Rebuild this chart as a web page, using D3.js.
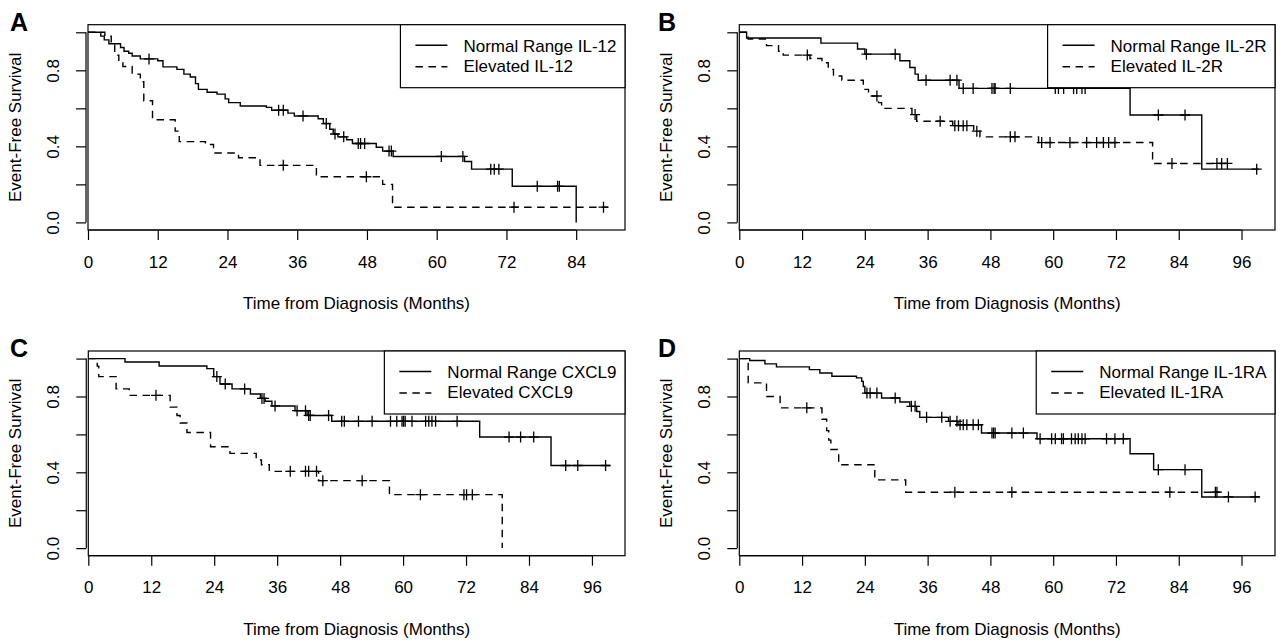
<!DOCTYPE html>
<html>
<head>
<meta charset="utf-8">
<script src="https://cdn.jsdelivr.net/npm/d3@7"></script>
<style>
  body { margin: 0; background: #fff; }
</style>
</head>
<body>
<div id="chart"></div>
<script>
// ---- data: event times (months), survival after each event, censor times ----

// A: IL-12
const il12NormalTime = [2.2, 2.8, 3.6, 5.6, 6.2, 7.0, 7.6, 9.0, 12.0, 12.9, 15.3, 16.5, 17.6, 18.5, 19.0, 20.5, 22.2, 23.6, 24.2, 26.2, 30.7, 31.6, 34.4, 35.5, 39.6, 40.5, 41.6, 42.2, 43.0, 44.5, 45.5, 49.6, 50.7, 52.5, 64.8, 66.0, 73.0, 84.0];
const il12NormalSurv = [0.98, 0.96, 0.94, 0.92, 0.90, 0.89, 0.875, 0.86, 0.85, 0.818, 0.805, 0.78, 0.765, 0.73, 0.70, 0.685, 0.675, 0.65, 0.63, 0.612, 0.605, 0.59, 0.575, 0.56, 0.545, 0.52, 0.49, 0.465, 0.45, 0.435, 0.415, 0.395, 0.375, 0.347, 0.32, 0.28, 0.19, 0.0];
const il12NormalCensor = [10.5, 32.8, 33.6, 37.0, 41.0, 42.5, 44.0, 46.5, 46.9, 47.6, 51.8, 52.2, 60.8, 64.5, 69.3, 69.9, 70.7, 77.3, 80.8, 81.1];
const il12NormalEnd = 84.0;
const il12ElevTime = [2.9, 4.0, 4.6, 5.3, 6.0, 7.6, 9.0, 9.6, 11.1, 15.0, 15.7, 20.2, 21.6, 25.9, 29.6, 39.3, 50.7, 52.4];
const il12ElevSurv = [0.98, 0.94, 0.88, 0.84, 0.82, 0.78, 0.74, 0.64, 0.54, 0.48, 0.425, 0.41, 0.365, 0.34, 0.30, 0.24, 0.20, 0.08];
const il12ElevCensor = [33.6, 47.9, 73.3, 88.7];
const il12ElevEnd = 89.5;

// B: IL-2R
const il2rNormalTime = [1.4, 15.6, 22.6, 24.0, 30.7, 32.6, 33.6, 34.2, 42.0, 74.7, 88.4];
const il2rNormalSurv = [0.97, 0.943, 0.912, 0.885, 0.85, 0.815, 0.78, 0.748, 0.705, 0.565, 0.28];
const il2rNormalCensor = [24.3, 29.8, 35.7, 40.3, 41.6, 42.8, 44.7, 48.3, 48.7, 48.9, 51.8, 60.4, 61.0, 62.0, 63.9, 64.5, 65.5, 66.1, 80.1, 85.2, 98.9];
const il2rNormalEnd = 99.3;
const il2rElevTime = [1.7, 5.2, 7.5, 8.4, 13.5, 15.8, 17.0, 18.0, 19.6, 23.7, 24.7, 26.6, 27.2, 33.0, 33.9, 40.8, 44.8, 46.0, 57.2, 79.0];
const il2rElevSurv = [0.965, 0.93, 0.90, 0.88, 0.862, 0.84, 0.805, 0.77, 0.748, 0.70, 0.665, 0.63, 0.60, 0.567, 0.532, 0.509, 0.48, 0.45, 0.42, 0.31];
const il2rElevCensor = [13.0, 26.3, 33.6, 38.4, 41.2, 41.9, 42.8, 43.5, 45.4, 51.8, 52.7, 57.8, 59.4, 63.2, 66.4, 68.3, 69.6, 70.6, 71.8, 82.7, 91.3, 92.2, 93.3];
const il2rElevEnd = 94.0;

// C: CXCL9
const cxcl9NormalTime = [7.0, 13.5, 22.6, 23.9, 25.1, 27.4, 30.9, 32.8, 33.7, 35.0, 39.4, 41.7, 46.4, 74.6, 88.2];
const cxcl9NormalSurv = [0.982, 0.961, 0.947, 0.905, 0.866, 0.84, 0.813, 0.79, 0.775, 0.75, 0.725, 0.70, 0.669, 0.586, 0.436];
const cxcl9NormalCensor = [24.5, 26.1, 29.8, 33.1, 33.5, 35.6, 39.8, 41.4, 42.0, 42.3, 45.8, 48.3, 48.8, 51.5, 54.1, 57.6, 58.8, 59.8, 60.1, 60.4, 61.7, 64.3, 64.9, 65.5, 66.2, 70.3, 80.2, 82.4, 84.9, 91.0, 93.3, 98.6];
const cxcl9NormalEnd = 99.5;
const cxcl9ElevTime = [1.7, 2.0, 5.3, 7.8, 15.6, 16.9, 17.5, 18.8, 23.3, 27.0, 32.0, 33.0, 34.5, 43.9, 57.4, 78.9];
const cxcl9ElevSurv = [0.96, 0.905, 0.84, 0.806, 0.744, 0.70, 0.66, 0.61, 0.535, 0.50, 0.465, 0.44, 0.405, 0.356, 0.282, 0.0];
const cxcl9ElevCensor = [12.9, 38.5, 41.4, 42.0, 43.5, 44.7, 52.2, 63.3, 71.6, 72.1, 73.2];
const cxcl9ElevEnd = 78.9;

// D: IL-1RA
const il1raNormalTime = [2.0, 4.9, 7.1, 13.4, 15.4, 17.7, 22.4, 23.4, 23.7, 24.0, 27.2, 30.7, 32.6, 33.9, 34.5, 40.0, 41.8, 46.3, 56.9, 74.7, 79.2, 88.4];
const il1raNormalSurv = [0.99, 0.972, 0.956, 0.942, 0.924, 0.907, 0.898, 0.88, 0.853, 0.818, 0.792, 0.771, 0.748, 0.721, 0.69, 0.669, 0.651, 0.607, 0.577, 0.498, 0.414, 0.27];
const il1raNormalCensor = [24.4, 25.0, 26.3, 29.8, 32.9, 33.6, 35.8, 38.7, 40.3, 41.6, 42.2, 42.8, 43.5, 44.7, 45.7, 48.3, 48.6, 48.9, 52.1, 54.3, 57.5, 59.7, 60.4, 61.6, 61.95, 63.5, 64.2, 64.8, 65.5, 66.1, 70.2, 71.8, 73.4, 80.1, 85.2, 93.5, 98.6];
const il1raNormalEnd = 99.5;
const il1raElevTime = [1.7, 5.2, 7.8, 15.8, 16.7, 17.1, 17.5, 19.0, 25.9, 31.8];
const il1raElevSurv = [0.872, 0.80, 0.74, 0.68, 0.62, 0.57, 0.52, 0.44, 0.36, 0.295];
const il1raElevCensor = [12.9, 41.2, 52.1, 82.3, 91.0, 91.3];
const il1raElevEnd = 91.8;

// axis ticks
const xTicksA = [0, 12, 24, 36, 48, 60, 72, 84];
const xTicksWide = [0, 12, 24, 36, 48, 60, 72, 84, 96];
const yTicks = [0, 0.2, 0.4, 0.6, 0.8, 1.0];
const yLabelled = [0, 0.4, 0.8];

const FONT = '"Liberation Sans", Arial, Helvetica, sans-serif';

const panels = [
    { letter: "A", marker: "IL-12", xTicks: xTicksA, xMax: 92.4,
      box: { left: 88, right: 625, top: 24.7, bottom: 230 }, letterX: 10,
      normal: { time: il12NormalTime, surv: il12NormalSurv, censor: il12NormalCensor, end: il12NormalEnd },
      elevated: { time: il12ElevTime, surv: il12ElevSurv, censor: il12ElevCensor, end: il12ElevEnd } },
    { letter: "B", marker: "IL-2R", xTicks: xTicksWide, xMax: 102.4,
      box: { left: 739.3, right: 1275, top: 24.7, bottom: 230 }, letterX: 658,
      normal: { time: il2rNormalTime, surv: il2rNormalSurv, censor: il2rNormalCensor, end: il2rNormalEnd },
      elevated: { time: il2rElevTime, surv: il2rElevSurv, censor: il2rElevCensor, end: il2rElevEnd } },
    { letter: "C", marker: "CXCL9", xTicks: xTicksWide, xMax: 102.3,
      box: { left: 88.3, right: 625, top: 351, bottom: 555.7 }, letterX: 10,
      normal: { time: cxcl9NormalTime, surv: cxcl9NormalSurv, censor: cxcl9NormalCensor, end: cxcl9NormalEnd },
      elevated: { time: cxcl9ElevTime, surv: cxcl9ElevSurv, censor: cxcl9ElevCensor, end: cxcl9ElevEnd } },
    { letter: "D", marker: "IL-1RA", xTicks: xTicksWide, xMax: 102.4,
      box: { left: 739.3, right: 1275, top: 351, bottom: 555.7 }, letterX: 658,
      normal: { time: il1raNormalTime, surv: il1raNormalSurv, censor: il1raNormalCensor, end: il1raNormalEnd },
      elevated: { time: il1raElevTime, surv: il1raElevSurv, censor: il1raElevCensor, end: il1raElevEnd } }
];

const svg = d3.select("#chart")
    .append("svg")
    .attr("width", 1280)
    .attr("height", 640)
    .style("background", "#fff");

// step function value at time t
function survAt(s, t) {
    let v = 1;
    s.time.forEach((ti, i) => { if (ti <= t) v = s.surv[i]; });
    return v;
}

function stepPoints(s) {
    const pts = [[0, 1]];
    s.time.forEach((t, i) => pts.push([t, s.surv[i]]));
    pts.push([s.end, s.surv[s.surv.length - 1]]);
    return pts;
}

panels.forEach(p => {
    const b = p.box;
    const g = svg.append("g");

    const x = d3.scaleLinear().domain([0, p.xMax]).range([b.left, b.right]);
    const y = d3.scaleLinear().domain([-0.04, 1.04]).range([b.bottom, b.top]);
    const axisX = b.left - 2;

    // frame
    g.append("rect")
        .attr("x", b.left).attr("y", b.top)
        .attr("width", b.right - b.left).attr("height", b.bottom - b.top)
        .attr("fill", "none").attr("stroke", "#000").attr("stroke-width", 1.2);

    // x axis
    g.append("g")
        .attr("transform", `translate(0,${b.bottom})`)
        .call(d3.axisBottom(x).tickValues(p.xTicks).tickSize(10).tickFormat(d3.format("d")))
        .call(a => a.select(".domain").remove())
        .call(a => a.selectAll("line").attr("stroke", "#000").attr("stroke-width", 1.2))
        .call(a => a.selectAll("text").attr("y", 37.5).attr("dy", 0)
            .attr("fill", "#000").style("font-family", FONT).style("font-size", "17px"));
    g.append("line")
        .attr("x1", x(p.xTicks[0])).attr("x2", x(p.xTicks[p.xTicks.length - 1]))
        .attr("y1", b.bottom).attr("y2", b.bottom)
        .attr("stroke", "#000").attr("stroke-width", 1.2);

    // y axis
    g.append("g")
        .attr("transform", `translate(${axisX},0)`)
        .call(d3.axisLeft(y).tickValues(yTicks).tickSize(10)
            .tickFormat(d => yLabelled.includes(d) ? d3.format(".1f")(d) : ""))
        .call(a => a.select(".domain").remove())
        .call(a => a.selectAll("line").attr("stroke", "#000").attr("stroke-width", 1.2))
        .call(a => a.selectAll("text")
            .attr("x", 0).attr("y", -27).attr("dy", 0)
            .attr("transform", "rotate(-90)")
            .attr("text-anchor", "middle")
            .attr("fill", "#000").style("font-family", FONT).style("font-size", "17px"));
    g.append("line")
        .attr("x1", axisX).attr("x2", axisX)
        .attr("y1", y(0)).attr("y2", y(1))
        .attr("stroke", "#000").attr("stroke-width", 1.2);

    // axis titles
    g.append("text")
        .attr("x", (b.left + b.right) / 2)
        .attr("y", b.bottom + 79)
        .attr("text-anchor", "middle")
        .style("font-family", FONT).style("font-size", "17px")
        .text("Time from Diagnosis (Months)");

    g.append("text")
        .attr("transform", `translate(${axisX - 65},${(b.top + b.bottom) / 2}) rotate(-90)`)
        .attr("text-anchor", "middle")
        .style("font-family", FONT).style("font-size", "17px")
        .text("Event-Free Survival");

    // panel letter
    g.append("text")
        .attr("x", p.letterX)
        .attr("y", b.top + 6.2)
        .style("font-family", FONT).style("font-size", "25px").style("font-weight", "bold")
        .text(p.letter);

    // survival curves
    const line = d3.line()
        .x(d => x(d[0]))
        .y(d => y(d[1]))
        .curve(d3.curveStepAfter);

    [[p.normal, null], [p.elevated, "7.5,5.5"]].forEach(([s, dash]) => {
        g.append("path")
            .attr("d", line(stepPoints(s)))
            .attr("fill", "none")
            .attr("stroke", "#000")
            .attr("stroke-width", 1.4)
            .attr("stroke-dasharray", dash);

        g.selectAll(null)
            .data(s.censor)
            .enter()
            .append("path")
            .attr("d", c => {
                const cx = x(c), cy = y(survAt(s, c));
                return `M${cx - 5},${cy}H${cx + 5}M${cx},${cy - 5.5}V${cy + 5.5}`;
            })
            .attr("stroke", "#000")
            .attr("stroke-width", 1.3)
            .attr("fill", "none");
    });

    // legend (top right, white box over curves)
    const lg = g.append("g");
    const labels = [`Normal Range ${p.marker}`, `Elevated ${p.marker}`];
    const texts = lg.selectAll("text")
        .data(labels)
        .enter()
        .append("text")
        .attr("y", (d, i) => b.top + (i === 0 ? 26.8 : 47))
        .style("font-family", FONT).style("font-size", "17px")
        .text(d => d);
    const w = d3.max(texts.nodes(), n => n.getComputedTextLength());
    const textX = b.right - 8.5 - w;
    texts.attr("x", textX);

    lg.insert("rect", ":first-child")
        .attr("x", textX - 63).attr("y", b.top)
        .attr("width", b.right - (textX - 63)).attr("height", 63)
        .attr("fill", "#fff").attr("stroke", "#000").attr("stroke-width", 1.2);

    lg.selectAll("line.key")
        .data([null, "7.5,5.5"])
        .enter()
        .append("line")
        .attr("class", "key")
        .attr("x1", textX - 48).attr("x2", textX - 16)
        .attr("y1", (d, i) => b.top + (i === 0 ? 20.5 : 42))
        .attr("y2", (d, i) => b.top + (i === 0 ? 20.5 : 42))
        .attr("stroke", "#000").attr("stroke-width", 1.4)
        .attr("stroke-dasharray", d => d);
});
</script>
</body>
</html>
